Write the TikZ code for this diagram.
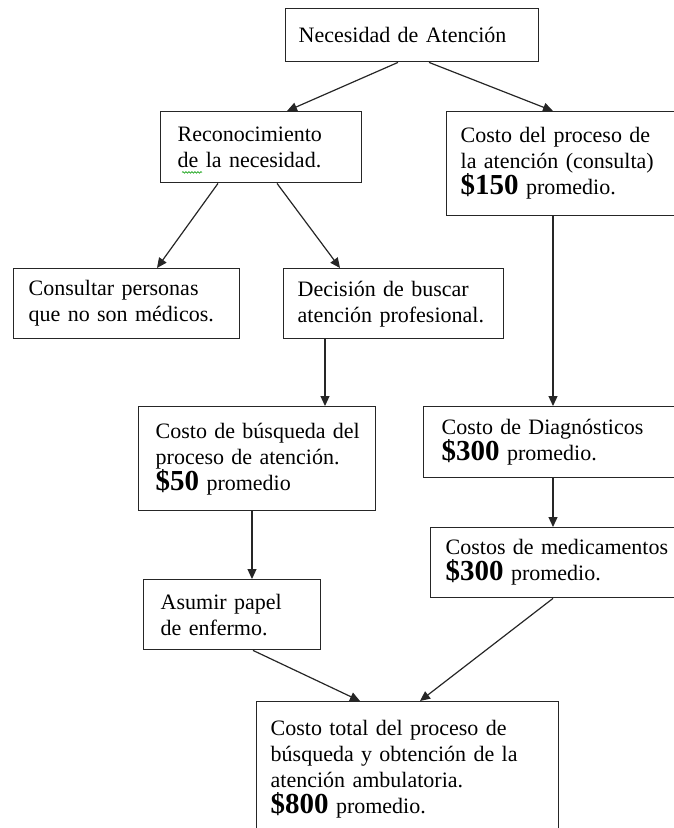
\documentclass[tikz,border=0pt]{standalone}
\usepackage{fontspec}
\setmainfont{Liberation Serif}
\usetikzlibrary{arrows.meta,decorations.pathmorphing}
\newcommand\Amt[1]{{\fontsize{29}{29}\selectfont\bfseries\$#1}}
\begin{document}
\begin{tikzpicture}[x=1pt,y=-1pt,
  box/.style={draw=black!85, line width=1.4pt, rectangle, anchor=north west, align=left,
              inner ysep=0pt, font=\fontsize{22}{26}\selectfont},
  arr/.style={draw=black!85, line width=1.2pt, -{Triangle[length=10pt,width=9pt]}},
  squiggle/.style={draw=green!60!black, line width=0.6pt, decorate,
              decoration={snake, amplitude=0.8pt, segment length=3pt}}
]
\useasboundingbox (0,0) rectangle (674,828);

\node[box, inner xsep=13pt, text width=227pt, minimum height=53pt] (A) at (285,8)
  {\mbox{Necesidad de Atención}};
\node[box, inner xsep=17pt, text width=167pt, minimum height=71pt] (B) at (160,111)
  {\mbox{Reconocimiento}\\\mbox{de la necesidad.}};
\node[box, inner xsep=14pt, text width=222pt, minimum height=104pt] (C) at (446,111)
  {\mbox{Costo del proceso de}\\\mbox{la atención (consulta)}\\\mbox{\Amt{150} promedio.}};
\node[box, inner xsep=15pt, text width=196pt, minimum height=70pt] (D) at (13,268)
  {\mbox{Consultar personas}\\\mbox{que no son médicos.}};
\node[box, inner xsep=14pt, text width=192pt, minimum height=70pt] (E) at (283,268)
  {\mbox{Decisión de buscar}\\\mbox{atención profesional.}};
\node[box, inner xsep=17pt, text width=203pt, minimum height=104pt] (F) at (138,406)
  {\mbox{Costo de búsqueda del}\\\mbox{proceso de atención.}\\\mbox{\Amt{50} promedio}};
\node[box, inner xsep=18pt, text width=234pt, minimum height=71pt] (G) at (423,406)
  {\mbox{Costo de Diagnósticos}\\\mbox{\Amt{300} promedio.}};
\node[box, inner xsep=15pt, text width=235pt, minimum height=70pt] (H) at (430,527)
  {\mbox{Costos de medicamentos}\\\mbox{\Amt{300} promedio.}};
\node[box, inner xsep=17pt, text width=143pt, minimum height=70pt] (I) at (143,579)
  {\mbox{Asumir papel}\\\mbox{de enfermo.}};
\node[box, inner xsep=14pt, text width=274pt, minimum height=136pt] (J) at (256,701)
  {\mbox{Costo total del proceso de}\\\mbox{búsqueda y obtención de la}\\\mbox{atención ambulatoria.}\\\mbox{\Amt{800} promedio.}};

\draw[squiggle] ([shift={(22pt,11pt)}]B.south west) -- ++(20,0);

\draw[arr] ([xshift=113pt]A.south west) -- ([xshift=127pt]B.north west);
\draw[arr] ([xshift=144pt]A.south west) -- ([xshift=107pt]C.north west);
\draw[arr] ([xshift=58pt]B.south west) -- ([xshift=144pt]D.north west);
\draw[arr] ([xshift=117pt]B.south west) -- ([xshift=57pt]E.north west);
\draw[arr] ([xshift=42pt]E.south west) -- ([xshift=187pt]F.north west);
\draw[arr] ([xshift=107pt]C.south west) -- ([xshift=130pt]G.north west);
\draw[arr] ([xshift=130pt]G.south west) -- ([xshift=123pt]H.north west);
\draw[arr] ([xshift=114pt]F.south west) -- ([xshift=109pt]I.north west);
\draw[arr] ([xshift=110pt]I.south west) -- ([xshift=104pt]J.north west);
\draw[arr] ([xshift=123pt]H.south west) -- ([xshift=164pt]J.north west);
\end{tikzpicture}
\end{document}
